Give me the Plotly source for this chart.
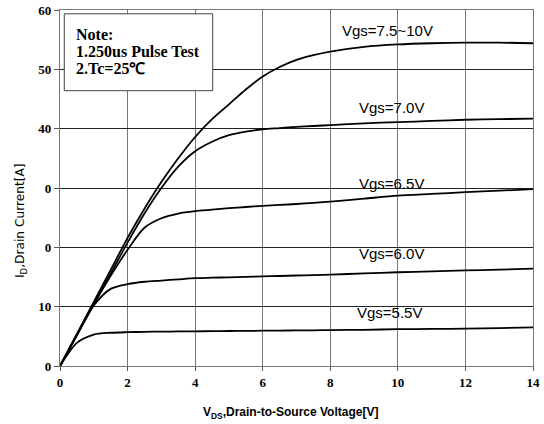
import plotly.graph_objects as go

# Drain voltage samples (V)
vds = [0, 0.5, 1, 1.5, 2, 2.5, 3, 3.5, 4, 4.5, 5, 5.5, 6, 6.5, 7, 7.5, 8, 9, 10, 11, 12, 13, 14]

# Drain current (A) per gate voltage
id_55 = [0, 3.9, 5.3, 5.6, 5.7, 5.75, 5.8, 5.82, 5.85, 5.87, 5.9, 5.92, 5.95, 5.97, 6.0, 6.02, 6.05, 6.1, 6.2, 6.25, 6.3, 6.4, 6.5]
id_60 = [0, 5.2, 10.2, 13.0, 13.8, 14.2, 14.4, 14.6, 14.8, 14.88, 14.95, 15.02, 15.1, 15.17, 15.25, 15.32, 15.4, 15.6, 15.8, 15.95, 16.1, 16.25, 16.4]
id_65 = [0, 5.2, 10.4, 15.2, 19.6, 23.3, 24.9, 25.7, 26.1, 26.35, 26.6, 26.8, 27.0, 27.15, 27.3, 27.5, 27.7, 28.2, 28.7, 29.0, 29.3, 29.55, 29.8]
id_70 = [0, 5.2, 10.5, 15.6, 20.8, 25.7, 30.0, 33.6, 36.2, 37.8, 38.9, 39.5, 39.9, 40.1, 40.3, 40.45, 40.6, 40.9, 41.1, 41.3, 41.5, 41.6, 41.7]
id_75 = [0, 5.4, 10.8, 16.2, 21.6, 26.5, 31.0, 35.0, 38.6, 41.6, 44.1, 46.6, 48.8, 50.4, 51.6, 52.4, 53.0, 53.8, 54.2, 54.4, 54.5, 54.5, 54.4]

series = [id_55, id_60, id_65, id_70, id_75]
curve_labels = ["Vgs=5.5V", "Vgs=6.0V", "Vgs=6.5V", "Vgs=7.0V", "Vgs=7.5~10V"]
label_x = [9.76, 9.82, 9.81, 9.81, 9.68]
label_y = [9.05, 19.0, 30.7, 43.6, 56.6]

x_ticks = [0, 2, 4, 6, 8, 10, 12, 14]
y_ticks = [0, 10, 20, 30, 40, 50, 60]
y_ticktext = ["0", "10", "0", "0", "40", "50", "60"]

note_lines = ["Note:", "1.250us Pulse Test", "2.Tc=25℃"]
note_y = [55.8, 53.0, 50.2]

fig = go.Figure()
for ys in series:
    fig.add_trace(go.Scatter(x=vds, y=ys, mode="lines",
                             line=dict(color="black", width=1.8, shape="spline", smoothing=0.8),
                             showlegend=False, hoverinfo="skip"))

for t, lx, ly in zip(curve_labels, label_x, label_y):
    fig.add_annotation(x=lx, y=ly, text=t, showarrow=False, xref="x", yref="y",
                       xanchor="center", yanchor="middle",
                       font=dict(family="Liberation Sans, Arial", size=15, color="black"))

# Note box
fig.add_shape(type="rect", xref="x", yref="y", x0=0.127, x1=4.52, y0=46.4, y1=59.36,
              line=dict(color="#444", width=1), fillcolor="white", layer="above")
for t, ny in zip(note_lines, note_y):
    fig.add_annotation(x=0.42, y=ny, xref="x", yref="y", xanchor="left", yanchor="middle",
                       text=t, showarrow=False, align="left",
                       font=dict(family="Liberation Serif, Times New Roman", size=16,
                                 color="black", weight="bold"))

# Axis titles
fig.add_annotation(x=(290.5 - 60) / 473, y=(366 - 413) / 356, xref="paper", yref="paper",
                   xanchor="center", yanchor="middle",
                   text="V<sub>DS</sub>,Drain-to-Source Voltage[V]", showarrow=False,
                   font=dict(family="Liberation Sans, Arial", size=12, color="black", weight="bold"))
fig.add_annotation(x=(21 - 60) / 473, y=(366 - 221) / 356, xref="paper", yref="paper",
                   xanchor="center", yanchor="middle",
                   text="I<sub>D</sub>,Drain Current[A]", showarrow=False, textangle=-90,
                   font=dict(family="DejaVu Sans, Liberation Sans", size=12.2, color="black"))

fig.update_xaxes(range=[0, 14], tickvals=x_ticks, showgrid=True, gridcolor="#777", gridwidth=1.3,
                 zeroline=False, showline=True, linecolor="#777", linewidth=1.3, mirror=True,
                 ticks="outside", ticklen=4, tickcolor="#555", automargin=False,
                 tickfont=dict(family="Liberation Serif, Times New Roman", size=13,
                               color="black", weight="bold"))
fig.update_yaxes(range=[0, 60], tickvals=y_ticks, ticktext=y_ticktext, showgrid=True,
                 gridcolor="#222", gridwidth=1, zeroline=False, showline=True, linecolor="#777",
                 linewidth=1.3, mirror=True, ticks="outside", ticklen=5, tickcolor="#555",
                 automargin=False,
                 tickfont=dict(family="Liberation Serif, Times New Roman", size=13,
                               color="black", weight="bold"))

fig.update_layout(width=544, height=424, plot_bgcolor="white", paper_bgcolor="white",
                  margin=dict(l=60, r=11, t=10, b=58, autoexpand=False))

fig.write_html("out.html", config={"displayModeBar": False},
               post_script="document.body.style.margin='0';")
